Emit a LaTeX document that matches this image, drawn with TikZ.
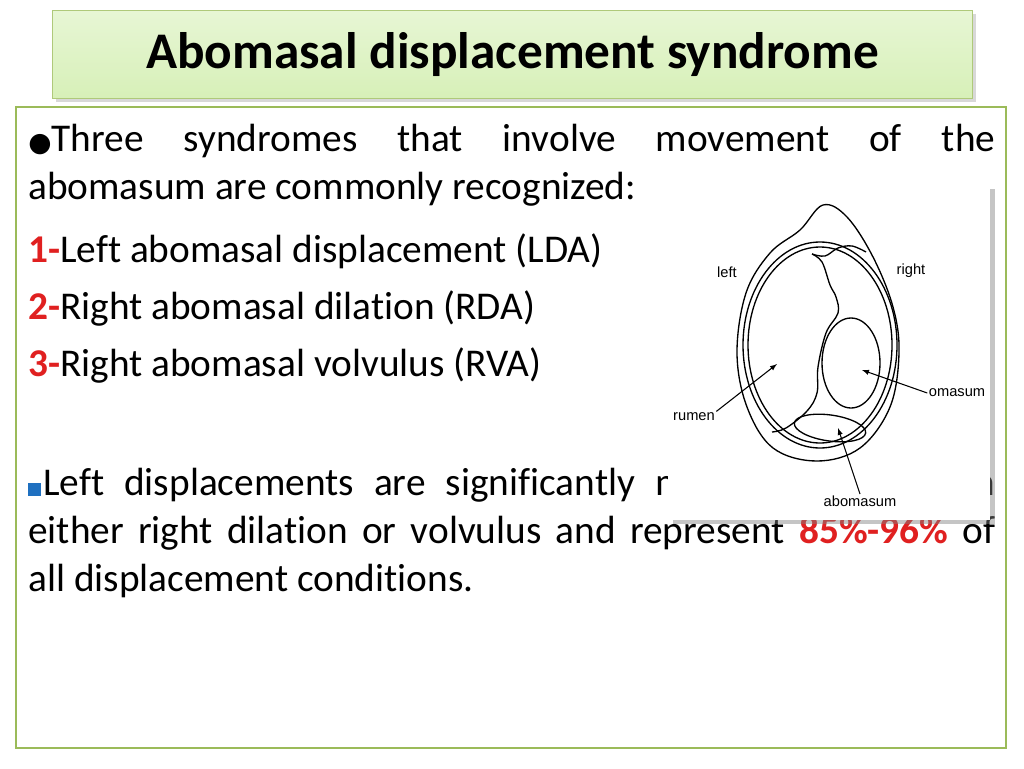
\documentclass[tikz,border=0pt]{standalone}
\usepackage{fontspec}
\setmainfont{Carlito}[Ligatures=NoCommon]
\newfontfamily\labelfont{Liberation Sans}
\newfontfamily\symfont{DejaVu Sans}
\usetikzlibrary{shadows}
\definecolor{frame}{HTML}{9BBB59}
\definecolor{titlegreen}{HTML}{D7F0B8}
\definecolor{numred}{HTML}{E02020}
\definecolor{sqblue}{HTML}{1F70C0}
\tikzset{
  bodytext/.style={anchor=north west, inner sep=0pt, align=justify, font=\fontsize{29.5}{36}\selectfont},
  listline/.style={anchor=base west, inner sep=0pt, font=\fontsize{29.5}{36}\selectfont},
  organ/.style={line width=1pt},
  organlabel/.style={inner sep=1pt, font=\labelfont\fontsize{11}{12}\selectfont},
  pointer/.style={-latex, line width=0.8pt}
}
\newcommand{\num}[1]{\textcolor{numred}{\textbf{#1}}}
\newcommand{\bluesq}{\textcolor{sqblue}{\rule{0.33em}{0.33em}}\hspace{0.05em}}
\begin{document}
\begin{tikzpicture}[x=0.75pt, y=-0.75pt]
  \useasboundingbox[fill=white] (0,0) rectangle (1024,768);
  % title bar
  \node[draw=frame!80, line width=0.8pt, top color=titlegreen!60, bottom color=titlegreen, drop shadow={opacity=0.3},
        minimum width=920*0.75pt, minimum height=88*0.75pt, anchor=north west] (title) at (52,10) {};
  \node[font=\fontsize{38.5}{42}\bfseries\selectfont] (titletext) at (title.center) {Abomasal displacement syndrome};
  % body frame
  \draw[frame, line width=1.5pt] (16,107) rectangle (1006,748);
  % texts
  \node[bodytext, text width=967*0.75pt] (intro) at (28,124)
    {{\symfont\fontsize{20}{20}\selectfont ●}Three syndromes that involve movement of the\linebreak abomasum are commonly recognized:};
  \node[listline] (lda) at (28,262) {\num{1-}Left abomasal displacement (LDA)};
  \node[listline] (rda) at (28,319) {\num{2-}Right abomasal dilation (RDA)};
  \node[listline] (rva) at (28,376) {\num{3-}Right abomasal volvulus (RVA)};
  \node[bodytext, text width=967*0.75pt] (left) at (28,468)
    {\bluesq Left displacements are significantly more common than\linebreak either right dilation or volvulus and represent \num{85\%-96\%} of\linebreak all displacement conditions.};
  % figure
  \fill[white, drop shadow={shadow xshift=4pt, shadow yshift=-3pt, opacity=0.45}] (668,185) rectangle (990,520);
  \draw[organ] plot[smooth cycle, tension=0.6] coordinates
    {(823,205) (847,217) (873,257) (893,307) (899,353) (890,407) (860,448) (817,461)
     (773,448) (747,407) (737,353) (746,293) (770,253) (800,230)};
  \draw[organ] (820,345) ellipse [x radius=77, y radius=103];
  \draw[organ] (820,345) ellipse [x radius=72, y radius=98];
  \draw[organ] plot[smooth, tension=0.6] coordinates
    {(812,254) (822,262) (830,285) (836,297) (838,313) (826,333) (818,367)
     (817,393) (807,411) (786,428) (772,432)};
  \draw[organ] plot[smooth, tension=0.6] coordinates
    {(812,254) (825,256) (838,248) (852,246) (866,252)};
  \draw[organ] (851,363) ellipse [x radius=29, y radius=45];
  \draw[organ, rotate around={-8:(830,428)}] (830,428) ellipse [x radius=36, y radius=13];
  \node[organlabel] (leftlbl) at (727,272) {left};
  \node[organlabel] (rightlbl) at (911,271) {right};
  \node[organlabel] (rumenlbl) at (694,417) {rumen};
  \node[organlabel] (omasumlbl) at (957,393) {omasum};
  \node[organlabel] (abomasumlbl) at (860,501) {abomasum};
  \coordinate (rumenpt) at (777,364);
  \coordinate (omasumpt) at (862,370);
  \coordinate (abomasumpt) at (838,428);
  \draw[pointer] (rumenlbl.north east) -- (rumenpt);
  \draw[pointer] (omasumlbl.west) -- (omasumpt);
  \draw[pointer] (abomasumlbl.north) -- (abomasumpt);
\end{tikzpicture}
\end{document}
